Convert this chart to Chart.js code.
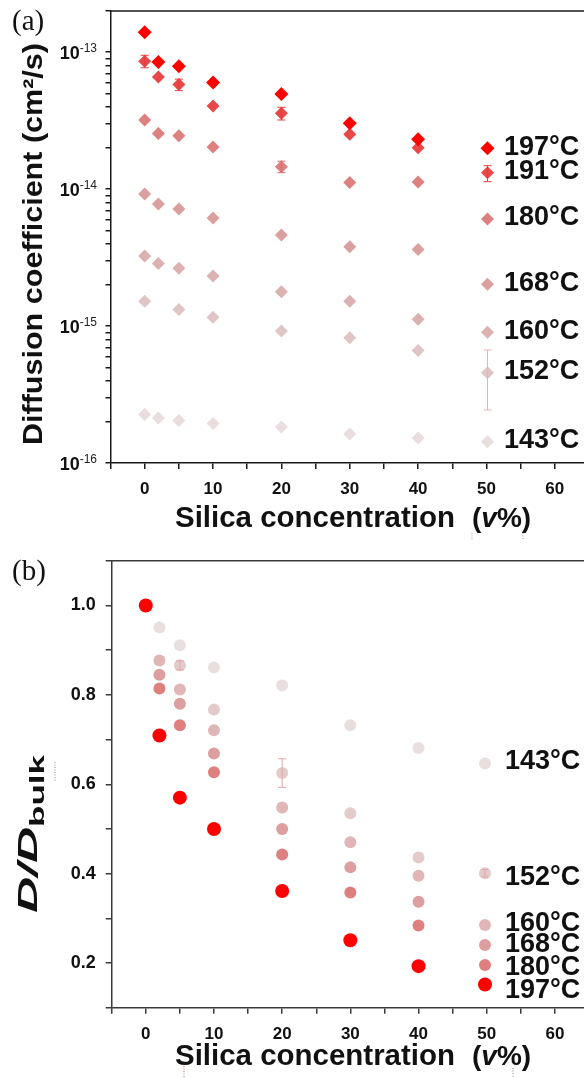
<!DOCTYPE html>
<html lang="en">
<head>
<meta charset="UTF-8">
<title>Diffusion in silica composites</title>
<script src="https://cdn.jsdelivr.net/npm/chart.js"></script>
<style>
  html, body { margin: 0; padding: 0; background: #fff; }
  #wrap { position: relative; width: 584px; height: 1078px; overflow: hidden; }
  canvas { position: absolute; left: 0; }
  #chartA { top: 0; }
  #chartB { top: 540px; }
</style>
</head>
<body>
<div id="wrap">
  <canvas id="chartA" width="600" height="540"></canvas>
  <canvas id="chartB" width="600" height="538"></canvas>
</div>
<script>
// silica content, v%
const silica = [0, 2, 5, 10, 20, 30, 40];

// (a) diffusion coefficient, cm2/s  (null = no point)
const D197 = [1.40e-13, 8.5e-14, 7.9e-14, 6.0e-14, 4.95e-14, 3.03e-14, 2.31e-14];
const D191 = [8.6e-14, 6.6e-14, 5.8e-14, 4.05e-14, 3.58e-14, 2.52e-14, 2.01e-14];
const D180 = [3.2e-14, 2.55e-14, 2.45e-14, 2.03e-14, 1.46e-14, 1.12e-14, 1.13e-14];
const D168 = [9.2e-15, 7.8e-15, 7.15e-15, 6.15e-15, 4.62e-15, 3.8e-15, 3.62e-15];
const D160 = [3.25e-15, 2.86e-15, 2.64e-15, 2.32e-15, 1.78e-15, 1.52e-15, 1.12e-15];
const D152 = [1.52e-15, null, 1.32e-15, 1.16e-15, 9.2e-16, 8.2e-16, 6.64e-16];
const D143 = [2.26e-16, 2.13e-16, 2.04e-16, 1.94e-16, 1.83e-16, 1.63e-16, 1.52e-16];
const D191err = [0.9e-14, null, 0.56e-14, null, 0.38e-14, null, null];
const D180err = [null, null, null, null, 0.14e-14, null, null];

// (b) D / D_bulk
const R197 = [1.0, 0.709, 0.570, 0.500, 0.361, 0.251, 0.193];
const R180 = [1.0, 0.814, 0.732, 0.627, 0.443, 0.358, 0.284];
const R168 = [1.0, 0.845, 0.780, 0.669, 0.500, 0.414, 0.337];
const R160 = [1.0, 0.877, 0.812, 0.721, 0.548, 0.470, 0.395];
const R152 = [1.0, null, 0.866, 0.767, 0.625, 0.535, 0.436];
const R143 = [1.0, 0.951, 0.911, 0.861, 0.821, 0.732, 0.681];
const R152err = [null, null, 0.01, null, 0.032, null, null];

// ticks
const xLabels = [0, 10, 20, 30, 40, 50, 60];
const decades = [1e-16, 1e-15, 1e-14, 1e-13];
const decadeExp = ['-16', '-15', '-14', '-13'];
const ratioLabels = [0.2, 0.4, 0.6, 0.8, 1.0];

const tempsA = ['197°C', '191°C', '180°C', '168°C', '160°C', '152°C', '143°C'];
const valsA = [D197, D191, D180, D168, D160, D152, D143];
const colorsA = ['#ff0000', '#e84848', '#df8080', '#da9f9f', '#dbb1b1', '#dfc5c5', '#e9dddd'];
const sizeA = [7, 6.5, 6.5, 6.5, 6.5, 6.5, 6.5];

const tempsB = ['197°C', '180°C', '168°C', '160°C', '152°C', '143°C'];
const valsB = [R197, R180, R168, R160, R152, R143];
const colorsB = ['#ff0000', '#de8080', '#dc9e9e', '#e0b6b6', '#e3cbcb', '#e9dfdf'];
const sizeB = [7, 6, 6, 6, 6, 6];

const FONT = "'Liberation Sans', Arial, Helvetica, sans-serif";
const SERIF = "'Liberation Serif', 'Times New Roman', serif";
const INK = '#111';

function pts(vals) {
  return silica.map((x, i) => ({ x: x, y: vals[i] })).filter(p => p.y != null);
}

// draws text pieces in a row; each piece may be stretched to a width
function textRun(ctx, parts, x, y, rot, align) {
  ctx.save();
  ctx.translate(x, y);
  if (rot) ctx.rotate(rot);
  ctx.textBaseline = 'alphabetic';
  ctx.textAlign = 'left';
  const w = parts.map(p => {
    ctx.font = p.font;
    const n = ctx.measureText(p.t).width;
    return { n: n, w: p.w || n };
  });
  let total = 0;
  parts.forEach((p, i) => { total += (p.gap || 0) + w[i].w; });
  let cx = align === 'center' ? -total / 2 : (align === 'right' ? -total : 0);
  parts.forEach((p, i) => {
    cx += p.gap || 0;
    ctx.save();
    ctx.font = p.font;
    ctx.fillStyle = p.color || INK;
    ctx.translate(cx, p.dy || 0);
    ctx.scale(w[i].w / w[i].n, 1);
    ctx.fillText(p.t, 0, 0);
    ctx.restore();
    cx += w[i].w;
  });
  ctx.restore();
}

function marker(ctx, style, x, y, r, color) {
  ctx.save();
  ctx.fillStyle = color;
  ctx.beginPath();
  if (style === 'rectRot') {
    ctx.moveTo(x - r, y); ctx.lineTo(x, y - r); ctx.lineTo(x + r, y); ctx.lineTo(x, y + r);
    ctx.closePath();
  } else {
    ctx.arc(x, y, r, 0, Math.PI * 2);
  }
  ctx.fill();
  ctx.restore();
}

function vbar(ctx, x, y1, y2, cap, color) {
  ctx.save();
  ctx.strokeStyle = color;
  ctx.lineWidth = 1;
  ctx.beginPath();
  ctx.moveTo(x, y1); ctx.lineTo(x, y2);
  ctx.moveTo(x - cap, y1); ctx.lineTo(x + cap, y1);
  ctx.moveTo(x - cap, y2); ctx.lineTo(x + cap, y2);
  ctx.stroke();
  ctx.restore();
}

// little dotted strokes left over in the scanned figure
function dots(ctx, x, y1, y2, color) {
  ctx.save();
  ctx.strokeStyle = color;
  ctx.lineWidth = 1;
  ctx.setLineDash([1, 1.5]);
  ctx.beginPath();
  ctx.moveTo(x, y1); ctx.lineTo(x, y2);
  ctx.stroke();
  ctx.restore();
}

function errorBars(chart, vals, errs, color) {
  const ctx = chart.ctx, xs = chart.scales.x, ys = chart.scales.y;
  silica.forEach((s, i) => {
    if (errs[i] == null || vals[i] == null) return;
    const x = xs.getPixelForValue(s);
    vbar(ctx, x, ys.getPixelForValue(vals[i] + errs[i]), ys.getPixelForValue(vals[i] - errs[i]), 4, color);
  });
}

function frameTop(chart, color) {
  const ctx = chart.ctx, a = chart.chartArea;
  ctx.save();
  ctx.strokeStyle = color;
  ctx.lineWidth = 1.5;
  ctx.beginPath();
  ctx.moveTo(a.left, a.top); ctx.lineTo(a.right + 20, a.top);
  ctx.stroke();
  ctx.restore();
}

function xScale(h, color) {
  return {
    type: 'linear', min: -5, max: 65,
    afterFit: s => { s.height = h; },
    grid: { display: true, drawOnChartArea: false, drawTicks: true, tickLength: 6, color: color, lineWidth: 1.5 },
    border: { display: true, color: color, width: 1.5 },
    ticks: {
      stepSize: 5, autoSkip: false, maxRotation: 0, padding: 10, color: INK,
      font: { family: FONT, size: 17, weight: 'bold' },
      callback: v => xLabels.includes(v) ? String(v) : ''
    }
  };
}

function legendText(ctx, t, x, y) {
  ctx.save();
  ctx.font = `bold 27px ${FONT}`;
  ctx.fillStyle = INK;
  ctx.textBaseline = 'middle';
  ctx.fillText(t, x, y);
  ctx.restore();
}

// ---------- (a) ----------
const minorLog = [];
decades.forEach(d => { for (let m = 1; m <= 9; m++) { if (m * d <= 2e-13) minorLog.push(m * d); } });

const plugA = {
  id: 'decoA',
  afterDatasetsDraw(chart) {
    errorBars(chart, D191, D191err, '#e23c3c');
    errorBars(chart, D180, D180err, '#d46d6d');
  },
  afterDraw(chart) {
    const ctx = chart.ctx, ys = chart.scales.y;
    frameTop(chart, '#1a1a1a');
    // decade labels 10^n
    decades.forEach((d, i) => {
      const y = ys.getPixelForValue(d);
      textRun(ctx, [
        { t: '10', font: `bold 18px ${FONT}` },
        { t: decadeExp[i], font: `12px ${FONT}`, dy: -7, color: '#222' }
      ], 97, y + 7, 0, 'right');
    });
    // axis titles
    textRun(ctx, [{ t: 'Diffusion coefficient (cm²/s)', font: `bold 28px ${FONT}`, w: 402 }], 42, 244, -Math.PI / 2, 'center');
    textRun(ctx, [
      { t: 'Silica concentration', font: `bold 29px ${FONT}`, w: 280 },
      { t: '(', font: `bold 28px ${FONT}`, gap: 17 },
      { t: 'v', font: `italic bold 28px ${FONT}` },
      { t: '%)', font: `bold 28px ${FONT}` }
    ], 175, 527, 0, 'left');
    textRun(ctx, [{ t: '(a)', font: `29px ${SERIF}` }], 12, 30, 0, 'left');
    // legend
    const rows = [148.3, 172.7, 219, 284.3, 332.3, 372.7, 441.7];
    tempsA.forEach((t, i) => {
      marker(ctx, 'rectRot', 487.5, rows[i], sizeA[i], colorsA[i]);
      legendText(ctx, t, 504, rows[i] - 1);
    });
    vbar(ctx, 487.5, 165.7, 181.7, 4, '#e23c3c');
    vbar(ctx, 487.5, 350, 410, 4, '#e6b3b3');
    dots(ctx, 472, 533, 539, '#999');
    dots(ctx, 523, 533, 539, '#999');
  }
};

new Chart(document.getElementById('chartA'), {
  type: 'scatter',
  data: {
    datasets: tempsA.map((t, i) => ({
      label: t, data: pts(valsA[i]), pointStyle: 'rectRot',
      pointRadius: sizeA[i], backgroundColor: colorsA[i], borderColor: colorsA[i], borderWidth: 0
    }))
  },
  options: {
    responsive: false, animation: false, events: [],
    layout: { padding: { left: 0, top: 11, right: 11, bottom: 0 } },
    plugins: { legend: { display: false }, tooltip: { enabled: false } },
    scales: {
      x: xScale(77, '#1a1a1a'),
      y: {
        type: 'logarithmic', min: 1e-16, max: 2e-13,
        afterBuildTicks: s => { s.ticks = minorLog.map(v => ({ value: v })); },
        afterFit: s => { s.width = 110.5; },
        grid: { display: true, drawOnChartArea: false, drawTicks: true, tickLength: 5, color: '#1a1a1a', lineWidth: 1.5 },
        border: { display: true, color: '#1a1a1a', width: 1.5 },
        ticks: { display: false }
      }
    }
  },
  plugins: [plugA]
});

// ---------- (b) ----------
const plugB = {
  id: 'decoB',
  afterDatasetsDraw(chart) {
    errorBars(chart, R152, R152err, '#e0a8a8');
  },
  afterDraw(chart) {
    const ctx = chart.ctx;
    frameTop(chart, '#3a3a3a');
    textRun(ctx, [
      { t: 'D/D', font: `italic bold 28px ${FONT}`, w: 86 },
      { t: 'bulk', font: `bold 20px ${FONT}`, w: 72, dy: 7 }
    ], 37, 373, -Math.PI / 2, 'left');
    dots(ctx, 55, 222, 242, '#7f88aa');
    textRun(ctx, [
      { t: 'Silica concentration', font: `bold 29px ${FONT}`, w: 280 },
      { t: '(', font: `bold 28px ${FONT}`, gap: 17 },
      { t: 'v', font: `italic bold 28px ${FONT}` },
      { t: '%)', font: `bold 28px ${FONT}` }
    ], 175, 525, 0, 'left');
    textRun(ctx, [{ t: '(b)', font: `29px ${SERIF}` }], 12, 40, 0, 'left');
    // legend, listed top to bottom: 143 ... 197
    const rows = [[223.5, 221.7], [333.3, 338], [385, 383.3], [405, 405], [425, 428], [444.5, 451]];
    for (let k = 0; k < tempsB.length; k++) {
      const i = tempsB.length - 1 - k;
      marker(ctx, 'circle', 485, rows[k][0], sizeB[i], colorsB[i]);
      legendText(ctx, tempsB[i], 505, rows[k][1]);
    }
    vbar(ctx, 485, 329.5, 337, 3, '#e0a8a8');
    dots(ctx, 184, 526, 538, '#a0705e');
    dots(ctx, 513, 528, 538, '#7f88aa');
  }
};

new Chart(document.getElementById('chartB'), {
  type: 'scatter',
  data: {
    datasets: tempsB.map((t, i) => ({
      label: t, data: pts(valsB[i]), pointStyle: 'circle',
      pointRadius: sizeB[i], backgroundColor: colorsB[i], borderColor: colorsB[i], borderWidth: 0
    }))
  },
  options: {
    responsive: false, animation: false, events: [],
    layout: { padding: { left: 0, top: 16, right: 11, bottom: 0 } },
    plugins: { legend: { display: false }, tooltip: { enabled: false } },
    scales: {
      x: xScale(70.3, '#3a3a3a'),
      y: {
        type: 'linear', min: 0.1, max: 1.1,
        afterFit: s => { s.width = 111.7; },
        grid: { display: true, drawOnChartArea: false, drawTicks: true, tickLength: 6, color: '#3a3a3a', lineWidth: 1.5 },
        border: { display: true, color: '#3a3a3a', width: 1.5 },
        ticks: {
          stepSize: 0.1, autoSkip: false, padding: 10, color: INK,
          font: { family: FONT, size: 18, weight: 'bold' },
          callback: v => {
            const hit = ratioLabels.find(r => Math.abs(r - v) < 1e-6);
            return hit != null ? hit.toFixed(1) : '';
          }
        }
      }
    }
  },
  plugins: [plugB]
});
</script>
</body>
</html>
